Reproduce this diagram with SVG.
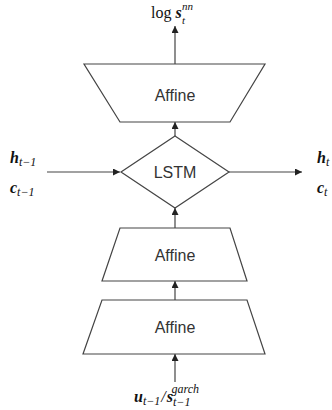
<svg xmlns="http://www.w3.org/2000/svg" width="332" height="410" viewBox="0 0 332 410">
<defs>
<marker id="arr" viewBox="0 0 10 10" refX="10" refY="5" markerWidth="7" markerHeight="7" markerUnits="userSpaceOnUse" orient="auto">
<path d="M0,0 L10,5 L0,10 z" fill="#222"/>
</marker>
<style>
.shape{fill:#fff;stroke:#444;stroke-width:1.2}
.lbl{font-family:"Liberation Sans",Arial,sans-serif;font-size:16px;fill:#333;text-anchor:middle}
.edge{stroke:#444;stroke-width:1.2;fill:none;marker-end:url(#arr)}
.m{font-family:"Liberation Serif","DejaVu Serif",serif;font-size:16px;fill:#111}
.v{font-weight:bold;font-style:italic}
.s{font-style:italic;font-size:12px}
.ss{font-family:"Liberation Serif","DejaVu Serif",serif;font-style:italic;font-size:11px;fill:#111}
</style>
</defs>
<rect width="332" height="410" fill="#fff"/>
<g id="connectors">
<line class="edge" x1="175" y1="64" x2="175" y2="26"/>
<line class="edge" x1="175" y1="136" x2="175" y2="122"/>
<line class="edge" x1="175" y1="228" x2="175" y2="208"/>
<line class="edge" x1="175" y1="300" x2="175" y2="281"/>
<line class="edge" x1="175" y1="382" x2="175" y2="354"/>
<line class="edge" x1="47" y1="172" x2="120" y2="172"/>
<line class="edge" x1="229" y1="172" x2="302" y2="172"/>
</g>
<g id="affine_top">
<polygon class="shape" points="84,64 265,64 230,122 120,122"/>
<text class="lbl" x="175" y="101">Affine</text>
</g>
<g id="lstm">
<polygon class="shape" points="175,136 229,172 175,208 121,172"/>
<text class="lbl" x="175" y="178">LSTM</text>
</g>
<g id="affine_mid">
<polygon class="shape" points="120,228 230,228 247,281 102,281"/>
<text class="lbl" x="175" y="261">Affine</text>
</g>
<g id="affine_bottom">
<polygon class="shape" points="102,300 247,300 265,354 83,354"/>
<text class="lbl" x="175" y="333">Affine</text>
</g>
<g id="output_label">
<text class="m" x="151" y="18">log <tspan class="v">s</tspan></text>
<text class="ss" x="182" y="10">nn</text>
<text class="ss" x="182" y="24">t</text>
</g>
<g id="input_label">
<text class="m" x="134" y="402"><tspan class="v">u</tspan><tspan class="s" dy="3">t−1</tspan><tspan dx="1" dy="-3" font-style="italic">/</tspan><tspan class="v" dx="1">s</tspan><tspan class="s" dy="4">t−1</tspan><tspan class="s" dx="-19" dy="-13">garch</tspan></text>
</g>
<g id="left_labels">
<text class="m" x="10" y="163"><tspan class="v">h</tspan><tspan class="s" dy="3">t−1</tspan></text>
<text class="m" x="10" y="193"><tspan class="v">c</tspan><tspan class="s" dy="3">t−1</tspan></text>
</g>
<g id="right_labels">
<text class="m" x="317" y="163"><tspan class="v">h</tspan><tspan class="s" dy="3">t</tspan></text>
<text class="m" x="317" y="193"><tspan class="v">c</tspan><tspan class="s" dy="3">t</tspan></text>
</g>
</svg>
